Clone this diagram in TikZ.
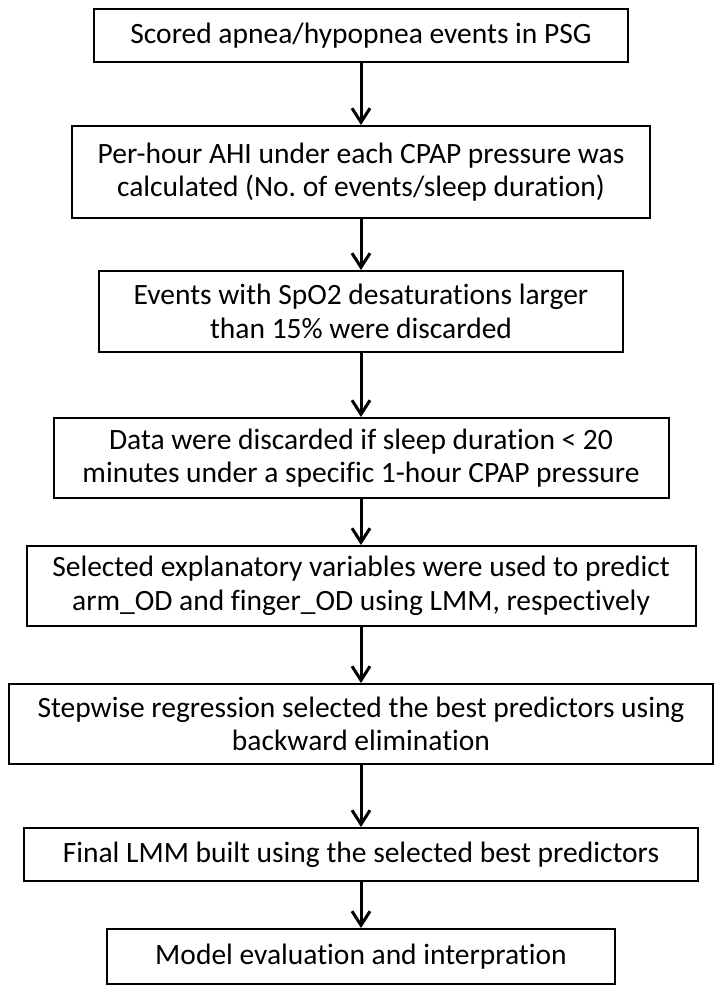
\documentclass[tikz,border=0pt]{standalone}
\usepackage{fontspec}
\setmainfont{Carlito}[Ligatures=NoCommon]
\usetikzlibrary{%
  arrows.meta,%
  positioning%
}

\begin{document}
\frenchspacing
\begin{tikzpicture}[
    x=1pt,y=1pt,
    >={Straight Barb[length=14pt,width=18pt]},
    stepbox/.style={rectangle,draw,line width=2pt,inner sep=0pt,align=center,
        font=\fontsize{29.5}{33.5}\selectfont},
    flow/.style={->,line width=3pt}
  ]
    \useasboundingbox (0,0) rectangle (720,-990);

    \node [stepbox,minimum width=534pt,minimum height=53pt,anchor=north]
        (scored) at (361,-8) {Scored apnea/hypopnea events in PSG};
    \node [stepbox,minimum width=578pt,minimum height=92pt,below=62pt of scored]
        (ahi) {Per-hour AHI under each CPAP pressure was\\calculated (No. of events/sleep duration)};
    \node [stepbox,minimum width=524pt,minimum height=81pt,below=51pt of ahi]
        (desat) {Events with SpO2 desaturations larger\\than 15\% were discarded};
    \node [stepbox,minimum width=615pt,minimum height=80pt,below=64pt of desat]
        (discard) {Data were discarded if sleep duration < 20\\minutes under a specific 1-hour CPAP pressure};
    \node [stepbox,minimum width=669pt,minimum height=80pt,below=46pt of discard]
        (explan) {Selected explanatory variables were used to predict\\arm\_OD and finger\_OD using LMM, respectively};
    \node [stepbox,minimum width=704pt,minimum height=80pt,below=56pt of explan]
        (stepwise) {Stepwise regression selected the best predictors using\\backward elimination};
    \node [stepbox,minimum width=674pt,minimum height=53pt,below=62pt of stepwise]
        (final) {Final LMM built using the selected best predictors};
    \node [stepbox,minimum width=508pt,minimum height=55pt,below=46pt of final]
        (evaluation) {Model evaluation and interpration};

    \draw [flow] (scored) -- (ahi);
    \draw [flow] (ahi) -- (desat);
    \draw [flow] (desat) -- (discard);
    \draw [flow] (discard) -- (explan);
    \draw [flow] (explan) -- (stepwise);
    \draw [flow] (stepwise) -- (final);
    \draw [flow] (final) -- (evaluation);
\end{tikzpicture}
\end{document}
